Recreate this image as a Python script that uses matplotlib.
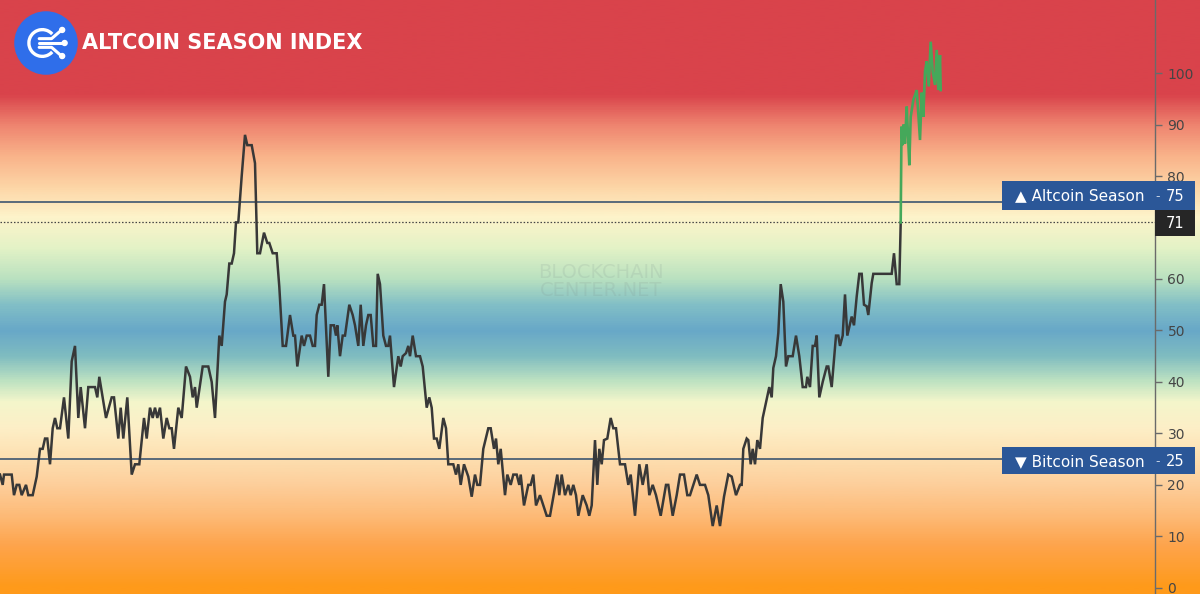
import numpy as np
import matplotlib
matplotlib.use("Agg")
from matplotlib import pyplot as plt
from matplotlib.colors import LinearSegmentedColormap
from matplotlib.patches import Circle, Arc, Rectangle
from matplotlib import transforms

## index readings, x = day number along the chart
days_main = [0, 2.7, 4, 11.7, 14, 16.7, 19.3, 21.7, 26, 28.3, 32.7, 36.7, 40, 42.7, 45, 47.3, 50, 52.7, 55, 57.3,
             60, 64, 68.3, 71.7, 75, 78.3, 80.7, 85, 88.3, 91.7, 95, 97.3, 99.3, 106, 111.7, 114, 118.3, 120.7, 123.3, 127.3,
             131.7, 135, 139.3, 144, 146.7, 150, 152.7, 155, 157.3, 160, 163.3, 166.7, 169.3, 171.7, 174, 178.3, 181.7, 186, 190, 192.7,
             195, 196.7, 202.7, 208.3, 211.7, 215, 219.3, 221.7, 225, 226.7, 229.3, 231.7, 234, 236, 238.3, 241.7, 245, 247.3, 251.7, 255,
             257.3, 260, 264, 267.3, 269.3, 272.7, 276.7, 279.3, 282.7, 286, 290, 293.3, 295, 297.3, 301.7, 304, 306.7, 310, 312.7, 315,
             316.7, 319.3, 321.7, 324, 328.3, 330.7, 334, 336, 337.3, 340, 342.7, 345, 349.3, 352.7, 355, 358.3, 360.7, 363.3, 366, 368.3,
             370.7, 373.3, 376, 377.7, 380, 383.3, 386, 388.3, 390, 394, 398.3, 400.7, 402.7, 406, 408.3, 410, 412.7, 416, 420, 422.7,
             426.7, 429.3, 431.7, 434, 436.7, 439.3, 443.3, 446, 448.3, 453.3, 456, 458.3, 460.7, 464, 468.3, 471.7, 475, 477.3, 480, 483.3,
             488.3, 490.7, 494, 496, 498.3, 500.7, 505, 507.3, 510.7, 513.3, 516.7, 519.3, 520.7, 524, 528.3, 530.7, 533.3, 536, 540, 546.7,
             550, 557.3, 559.3, 561.7, 565, 568.3, 570.7, 573.3, 576, 578.3, 582.7, 586.7, 589.3, 591.7, 595, 597.3, 599.3, 601.7, 604, 607.3,
             610.7, 613.3, 616, 620, 625, 628.3, 630.7, 635, 639.3, 642.7, 646.7, 649.3, 652.7, 656, 660.7, 666, 668.3, 672.7, 676.7, 680,
             684, 687.3, 690, 696.7, 700, 705, 708.3, 712.7, 716.7, 720, 724, 728.3, 731.7, 736, 740, 741.7, 743.3, 746.7, 748.3, 750.7,
             752.7, 755, 757.3, 760, 762.7, 766, 769.3, 771.7, 773.3, 776, 778.3, 780.7, 783.3, 786, 788.3, 792.7, 796, 799.3, 802.7, 806,
             807.3, 810, 812.7, 815, 816.7, 819.3, 822.7, 826.7, 828.3, 831.7, 836, 838.3, 840, 842.7, 845, 847.3, 851.7, 854, 856.7, 859.3,
             861.7, 864, 866.7, 868.3, 871.7, 873.3, 891.7, 894, 896.7, 899.3, 900.7]
index_main = [22, 20, 22, 22, 18, 20, 20, 18, 20, 18, 18, 21.6, 27, 27, 29, 29, 24, 31, 33, 31,
              31, 37, 29, 44, 47, 33, 39, 31, 39, 39, 39, 37, 41, 33, 37, 37, 29, 35, 29, 37,
              22, 24, 24, 33, 29, 35, 33, 35, 33, 35, 29, 33, 31, 31, 27, 35, 33, 43, 41, 37,
              39, 35, 43, 43, 40, 33, 49, 47, 55.6, 57, 63, 63, 65, 71, 71, 80, 88, 86, 86, 82.5,
              65, 65, 69, 67, 67, 65, 65, 58.5, 47, 47, 53, 49, 49, 43, 49, 47, 49, 49, 47, 47,
              53, 55, 55, 59, 41, 51, 51, 49, 51, 45, 49, 49, 55, 53, 51, 47, 55, 47, 51, 53,
              53, 47, 47, 61, 59, 49, 47, 47, 49, 39, 45, 43, 45, 45.6, 47, 45, 49, 45, 45, 43,
              35, 37, 35, 29, 29, 27, 33, 31, 24, 24, 22, 24, 20, 24, 21.6, 17.7, 22, 20, 20, 27,
              31, 31, 27, 29, 24, 27, 18, 22, 20, 22, 22, 20, 22, 16, 20, 20, 22, 16, 18, 14,
              14, 22, 18, 22, 18, 20, 18, 20, 18, 14, 18, 16, 14, 16, 28.7, 20, 27, 24, 28.7, 29,
              33, 31, 31, 24, 24, 20, 22, 14, 24, 20, 24, 18, 20, 18, 14, 20, 20, 14, 18, 22,
              22, 18, 18, 22, 20, 20, 18, 12, 16, 12, 17.7, 22, 21.6, 18, 20, 20, 27, 29, 28.7, 24,
              27, 24, 28.7, 27, 33, 36, 39, 37, 42.7, 45, 49.5, 59, 55.6, 43, 45, 45, 49, 45, 39, 39,
              41, 39, 47, 47, 49, 37, 40, 43, 43, 39, 49, 49, 47, 49, 57, 49, 52.7, 51, 56.6, 61,
              61, 55, 54.7, 53, 59.2, 61, 61, 65, 59, 59, 71]

## altcoin season stretch (drawn in green)
days_season = [900.7, 901.5, 902.7, 903.5, 905, 906.7, 908, 909.3, 910.7, 913.3, 915, 916.7, 918.3, 920, 921.7,
               923.3, 925, 926.7, 928.7, 930.7, 932.7, 935, 936.7, 938.3, 940, 940.7]
index_season = [71, 89.6, 86, 90, 86.3, 93.5, 88, 82.1, 91.5, 94.8, 95.7, 96.7, 92.2, 87, 96.2,
                91.5, 100.3, 102.3, 97.4, 106.1, 100.3, 97.7, 104.5, 96.7, 103.5, 96.7]

altcoin_level = 75
bitcoin_level = 25
last_value = 71
## 70 sits under the "71" price label, so it is not listed
y_ticks = [0, 10, 20, 30, 40, 50, 60, 80, 90, 100]

## background colour stops (index value, colour)
bg_stops = [(-2, '#ff9a1a'), (0, '#ff9a1a'), (8, '#fea44c'), (14, '#fdbb78'), (20, '#fdcf9c'),
            (26, '#fde2b4'), (31, '#fdefc7'), (36, '#f4f6cb'), (40, '#bfe3c2'), (45, '#7fbcc0'),
            (50, '#68a8c8'), (55, '#82bfc6'), (60, '#b9e1c0'), (66, '#e3f2c6'), (72, '#fdf4cb'),
            (78, '#fdd5a6'), (84, '#f9b38a'), (90, '#ef8570'), (96, '#d9434b'), (116, '#d9434b')]

y_min, y_max = -1.2, 114.2

fig = plt.figure(figsize=(12, 5.94), dpi=100)

## gradient background over the whole figure
ax_bg = fig.add_axes([0, 0, 1, 1], zorder=0)
lo, hi = bg_stops[0][0], bg_stops[-1][0]
cmap = LinearSegmentedColormap.from_list('season', [((v - lo) / (hi - lo), c) for v, c in bg_stops])
grad = np.linspace(y_min, y_max, 800)[:, None]
ax_bg.imshow(grad, aspect='auto', cmap=cmap, vmin=lo, vmax=hi, origin='lower',
             extent=[0, 1, y_min, y_max], interpolation='bilinear')
ax_bg.set_xlim(0, 1)
ax_bg.set_ylim(y_min, y_max)
ax_bg.axis('off')

## main chart
ax = fig.add_axes([0, 0, 1155 / 1200, 1], zorder=1)
ax.patch.set_alpha(0)
ax.set_xlim(0, 1155)
ax.set_ylim(y_min, y_max)

ax.text(601, 59.5, 'BLOCKCHAIN\nCENTER.NET', ha='center', va='center', fontsize=14,
        color='#7a8a8a', alpha=0.15, linespacing=0.95, zorder=1)

ax.axhline(altcoin_level, color='#3d5670', lw=1.2, zorder=2)
ax.axhline(bitcoin_level, color='#3d5670', lw=1.2, zorder=2)
ax.axhline(last_value, color='#444444', lw=0.9, ls=(0, (1.2, 1.5)), zorder=2)

ax.plot(days_main, index_main, color='#383838', lw=1.8, solid_joinstyle='miter', zorder=3)
ax.plot(days_season, index_season, color='#45a85a', lw=1.9, solid_joinstyle='miter', zorder=4)

ax.yaxis.tick_right()
ax.set_yticks(y_ticks)
ax.set_xticks([])
ax.tick_params(axis='y', direction='out', length=5, width=1, color='#6a6a6a',
               labelcolor='#454545', labelsize=10, pad=4)
for s in ['left', 'top', 'bottom']:
    ax.spines[s].set_visible(False)
ax.spines['right'].set_color('#6a6a6a')
ax.spines['right'].set_linewidth(1)

## price-scale labels (x in figure fraction, y in index units)
trans = transforms.blended_transform_factory(fig.transFigure, ax.transData)
box_blue = '#2b5798'
ax.add_patch(Rectangle((1002 / 1200, 73.4), 193 / 1200, 5.6, transform=trans, facecolor=box_blue,
                       edgecolor='none', clip_on=False, zorder=6))
ax.add_patch(Rectangle((1155 / 1200, 68.3), 40 / 1200, 5.1, transform=trans, facecolor='#262626',
                       edgecolor='none', clip_on=False, zorder=6))
ax.add_patch(Rectangle((1002 / 1200, 22.1), 193 / 1200, 5.2, transform=trans, facecolor=box_blue,
                       edgecolor='none', clip_on=False, zorder=6))

ax.text(1015 / 1200, 76.1, u'\u25b2 Altcoin Season', transform=trans, color='white', fontsize=11,
        ha='left', va='center', zorder=7)
ax.text(1015 / 1200, 24.6, u'\u25bc Bitcoin Season', transform=trans, color='white', fontsize=11,
        ha='left', va='center', zorder=7)
ax.text(1155 / 1200, 76.1, '-', transform=trans, color='#c8d4e6', fontsize=9, ha='left', va='center', zorder=7)
ax.text(1155 / 1200, 24.6, '-', transform=trans, color='#c8d4e6', fontsize=9, ha='left', va='center', zorder=7)
ax.text(1166 / 1200, 76.1, str(altcoin_level), transform=trans, color='white', fontsize=10.5,
        ha='left', va='center', zorder=7)
ax.text(1166 / 1200, 24.6, str(bitcoin_level), transform=trans, color='white', fontsize=10.5,
        ha='left', va='center', zorder=7)
ax.text(1166 / 1200, 70.8, str(last_value), transform=trans, color='white', fontsize=10.5,
        ha='left', va='center', zorder=7)

## logo + title
ax_logo = fig.add_axes([14 / 1200, 1 - 75 / 594, 64 / 1200, 64 / 594], zorder=5)
ax_logo.set_xlim(-1.03, 1.03)
ax_logo.set_ylim(-1.03, 1.03)
ax_logo.axis('off')
ax_logo.add_patch(Circle((0, 0), 1, color='#2f6eea'))
ax_logo.add_patch(Arc((-0.12, 0), 0.86, 0.86, theta1=42, theta2=318, color='white', lw=2.4))
ax_logo.plot([-0.22, 0.56], [0, 0], color='white', lw=2.2, solid_capstyle='round')
ax_logo.plot([-0.22, 0.18, 0.48], [0.14, 0.14, 0.4], color='white', lw=2.2, solid_capstyle='round')
ax_logo.plot([-0.22, 0.18, 0.48], [-0.14, -0.14, -0.4], color='white', lw=2.2, solid_capstyle='round')
for px, py in [(0.6, 0), (0.52, 0.42), (0.52, -0.42)]:
    ax_logo.add_patch(Circle((px, py), 0.08, color='white'))

fig.text(82 / 1200, 1 - 43 / 594, 'ALTCOIN SEASON INDEX', color='white', fontsize=15,
         fontweight='bold', ha='left', va='center')

plt.savefig('out.png', dpi=100)
plt.close()
